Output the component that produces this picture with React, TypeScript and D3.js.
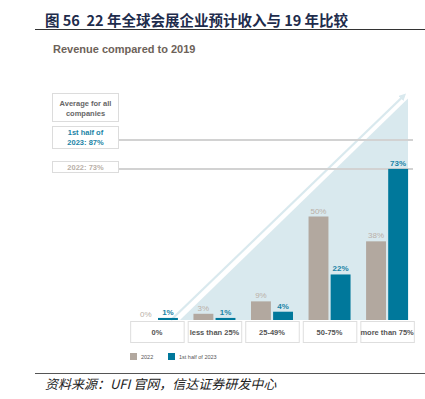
import * as d3 from 'd3'
import React from 'react'

const categories = ['0%', 'less than 25%', '25-49%', '50-75%', 'more than 75%']
const series = ['2022', '1st half of 2023']
const values2022 = [0, 3, 9, 50, 38]
const valuesH12023 = [1, 1, 4, 22, 73]
const averages = [
  { label: ['1st half of', '2023: 87%'], value: 87, key: 'h1' },
  { label: ['2022: 73%'], value: 73, key: 'y22' },
]

const GRAY = '#b2a89f'
const TEAL = '#00789b'
const GRAY_TXT = '#b9b0a8'
const TEAL_TXT = '#1b84a6'
const BG = '#d9e9ee'
const FONT = '"Liberation Sans", Arial, sans-serif'
const CJK = '"Noto Sans CJK SC", sans-serif'

const App = () => {
  const width = 425
  const height = 399
  const baseY = 320

  const x = d3.scaleBand().domain(categories).range([129, 415]).paddingInner(0.07).paddingOuter(0.02)
  const y = d3.scaleLinear().domain([0, 100]).range([baseY, baseY - 207])
  const sub = d3.scaleBand().domain(series).range([0, 42]).paddingInner(0.1)
  const barOff = (x.bandwidth() - 42) / 2

  const colors = d3.scaleOrdinal<string, string>().domain(series).range([GRAY, TEAL])
  const txtColors = d3.scaleOrdinal<string, string>().domain(series).range([GRAY_TXT, TEAL_TXT])
  const data = [values2022, valuesH12023]

  // triangle backdrop + arrow
  const triRight = 408
  const triTop = y(107)
  const triLeft = 180
  const tri = d3.line()([
    [triLeft, baseY],
    [triRight, triTop],
    [triRight, baseY],
  ]) + 'Z'

  const lineRight = 413

  return (
    <svg width={width} height={height} style={{ position: 'absolute', left: 0, top: 0 }}>
      <defs>
        <marker id="ah" viewBox="0 0 10 10" refX="6" refY="5" markerWidth="3.2" markerHeight="3.2" orient="auto">
          <path d="M0,0 L10,5 L0,10 Z" fill={BG} />
        </marker>
      </defs>
      <rect width={width} height={height} fill="#fff" />
      <text
        x={45}
        y={26}
        fontFamily={CJK}
        fontWeight="bold"
        fontSize={14.5}
        fill="#1e2c4c"
        style={{ whiteSpace: 'pre' }}
      >
        {'图 56  22 年全球会展企业预计收入与 19 年比较'}
      </text>
      <line x1={35} x2={425} y1={29.5} y2={29.5} stroke="#333" strokeWidth={1} />
      <text x={53} y={53} fontFamily={FONT} fontWeight="bold" fontSize={11} fill="#6d6259">
        Revenue compared to 2019
      </text>

      <path d={tri} fill={BG} />
      <line
        x1={triLeft - 9}
        y1={baseY}
        x2={triRight - 4}
        y2={triTop - 3}
        stroke={BG}
        strokeWidth={2.2}
        markerEnd="url(#ah)"
      />

      {/* left boxes */}
      <rect x={52.5} y={93.5} width={66} height={28} fill="#fff" stroke="#dcdcdc" />
      <text textAnchor="middle" fontFamily={FONT} fontWeight="bold" fontSize={7.5} fill="#666">
        <tspan x={85.5} y={106}>Average for all</tspan>
        <tspan x={85.5} y={115.5}>companies</tspan>
      </text>
      {averages.map((a, i) => {
        const top = i === 0 ? 126.5 : 161.5
        const h = i === 0 ? 22 : 11
        const col = i === 0 ? TEAL_TXT : GRAY_TXT
        return (
          <g key={a.key}>
            <line x1={119} x2={lineRight} y1={y(a.value)} y2={y(a.value)} stroke="#d2d2d2" strokeWidth={2} />
            <rect x={52.5} y={top} width={66} height={h} fill="#fff" stroke="#dcdcdc" />
            <text textAnchor="middle" fontFamily={FONT} fontWeight="bold" fontSize={7.5} fill={col}>
              {a.label.map((l, j) => (
                <tspan key={j} x={85.5} y={top + (i === 0 ? 8.5 + j * 9.5 : 8.5)}>
                  {l}
                </tspan>
              ))}
            </text>
          </g>
        )
      })}

      {/* bars */}
      {categories.map((c, ci) => (
        <g key={c} transform={`translate(${x(c)! + barOff},0)`}>
          {series.map((s, si) => {
            const v = data[si][ci]
            const bx = sub(s)!
            return (
              <g key={s}>
                <rect
                  x={bx}
                  y={y(v)}
                  width={sub.bandwidth()}
                  height={Math.max(baseY - y(v), v === 0 ? 0 : 2)}
                  fill={colors(s)}
                />
                <text
                  x={bx + sub.bandwidth() / 2}
                  y={y(v) - 3}
                  textAnchor="middle"
                  fontFamily={FONT}
                  fontWeight={si === 1 ? 'bold' : 'normal'}
                  fontSize={8}
                  fill={txtColors(s)}
                >
                  {v}%
                </text>
              </g>
            )
          })}
        </g>
      ))}

      {/* category boxes */}
      {categories.map((c) => (
        <g key={c}>
          <rect x={x(c)! + 0.5} y={baseY + 1.5} width={x.bandwidth()} height={21} fill="#fff" stroke="#dedede" />
          <text
            x={x(c)! + x.bandwidth() / 2}
            y={baseY + 15}
            textAnchor="middle"
            fontFamily={FONT}
            fontWeight="bold"
            fontSize={7.5}
            fill="#555"
          >
            {c}
          </text>
        </g>
      ))}

      {/* legend */}
      {series.map((s, i) => (
        <g key={s} transform={`translate(${130 + i * 38},353)`}>
          <rect width={7} height={7} fill={colors(s)} />
          <text x={11} y={6} fontFamily={FONT} fontSize={5.5} fill="#555">
            {s}
          </text>
        </g>
      ))}

      <line x1={35} x2={425} y1={373.5} y2={373.5} stroke="#555" strokeWidth={1} />
      <text x={45} y={389} fontFamily={CJK} fontStyle="italic" fontSize={13} fill="#222">
        资料来源：UFI 官网，信达证券研发中心
      </text>
    </svg>
  )
}

export default App
